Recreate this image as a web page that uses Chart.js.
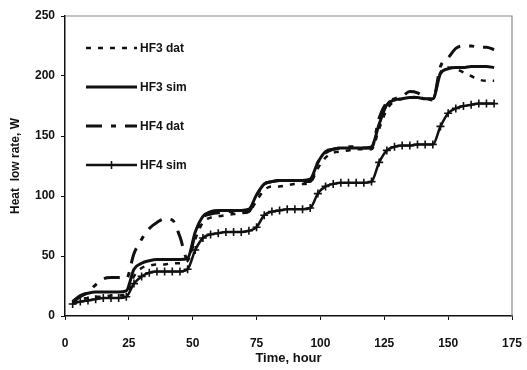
<!DOCTYPE html>
<html>
<head>
<meta charset="utf-8">
<script src="https://cdn.jsdelivr.net/npm/chart.js@4.4.0/dist/chart.umd.min.js"></script>
<style>
  html, body { margin: 0; padding: 0; background: #fff; }
  #wrap { width: 527px; height: 370px; }
</style>
</head>
<body>
<div id="wrap"><canvas id="heatChart" width="527" height="370"></canvas></div>
<script>
// time axis, hours
const hours = [3, 6, 9, 12, 15, 18, 21, 24, 27, 30, 33, 36, 39, 42, 45, 48,
  51, 54, 57, 60, 63, 66, 69, 72, 75, 78, 81, 84, 87, 90, 93, 96,
  99, 102, 105, 108, 111, 114, 117, 120, 123, 126, 129, 132, 135, 138, 141, 144,
  147, 150, 153, 156, 159, 162, 165, 168];

// heat flow rate, W
const hf3Dat = [11, 14, 15, 16, 16, 17, 17, 18, 33, 40, 42, 43, 43, 44, 44, 46,
  64, 78, 82, 83, 84, 85, 86, 87, 96, 105, 108, 108, 109, 110, 110, 111,
  123, 132, 136, 137, 138, 139, 139, 139, 156, 172, 179, 181, 182, 183, 181, 181,
  203, 207, 206, 203, 200, 197, 196, 196];
const hf3Sim = [12, 17, 19, 20, 20, 20, 20, 21, 39, 44, 46, 47, 47, 47, 47, 48,
  70, 83, 87, 88, 88, 88, 88, 89, 101, 110, 112, 113, 113, 113, 113, 114,
  128, 137, 139, 140, 140, 140, 140, 141, 160, 176, 180, 181, 182, 182, 181, 181,
  202, 206, 207, 207, 208, 208, 208, 207];
const hf4Dat = [12, 16, 20, 26, 31, 32, 32, 31, 52, 64, 73, 78, 81, 80, 66, 47,
  68, 82, 85, 86, 87, 87, 86, 87, 100, 110, 112, 113, 113, 113, 112, 112,
  128, 136, 139, 140, 141, 141, 140, 140, 165, 178, 181, 183, 187, 186, 182, 180,
  208, 215, 223, 225, 225, 224, 224, 222];
const hf4Sim = [10, 12, 13, 14, 15, 15, 15, 16, 27, 33, 36, 37, 37, 37, 37, 39,
  55, 65, 68, 69, 70, 70, 70, 71, 74, 84, 87, 88, 89, 89, 89, 90,
  102, 108, 110, 111, 111, 111, 111, 112, 128, 138, 141, 142, 142, 143, 143, 143,
  158, 169, 173, 175, 176, 177, 177, 177];

const seriesNames = ['HF3 dat', 'HF3 sim', 'HF4 dat', 'HF4 sim'];
const xTicks = [0, 25, 50, 75, 100, 125, 150, 175];
const yTicks = [0, 50, 100, 150, 200, 250];

const FONT = 'Liberation Sans, Arial, sans-serif';
const INK = '#111';

function pts(vals) {
  return hours.map((h, i) => ({ x: h, y: vals[i] }));
}

// frame on top/right plus the legend inside the plot
const framePlugin = {
  id: 'frame',
  beforeDatasetsDraw(chart) {
    const { ctx, chartArea: a } = chart;
    ctx.save();
    ctx.strokeStyle = '#8a8a8a';
    ctx.lineWidth = 1.2;
    ctx.beginPath();
    ctx.moveTo(a.left, a.top);
    ctx.lineTo(a.right, a.top);
    ctx.lineTo(a.right, a.bottom);
    ctx.stroke();
    ctx.restore();
  },
  afterDatasetsDraw(chart) {
    const { ctx, chartArea: a } = chart;
    ctx.save();
    chart.data.datasets.forEach((ds, i) => {
      const y = a.top + 32 + i * 39;
      const x0 = a.left + 21, x1 = a.left + 72;
      ctx.strokeStyle = INK;
      ctx.lineWidth = ds.borderWidth;
      ctx.setLineDash(ds.borderDash || []);
      ctx.beginPath();
      ctx.moveTo(x0, y);
      ctx.lineTo(x1, y);
      ctx.stroke();
      ctx.setLineDash([]);
      if (ds.pointStyle === 'cross') {
        const cx = (x0 + x1) / 2;
        ctx.lineWidth = 1.6;
        ctx.beginPath();
        ctx.moveTo(cx, y - 4);
        ctx.lineTo(cx, y + 4);
        ctx.stroke();
      }
      ctx.fillStyle = INK;
      ctx.font = 'bold 12px ' + FONT;
      ctx.textBaseline = 'middle';
      ctx.fillText(ds.label, x1 + 3, y + 1);
    });
    ctx.restore();
  }
};

new Chart(document.getElementById('heatChart'), {
  type: 'line',
  data: {
    datasets: [
      {
        label: seriesNames[0],
        data: pts(hf3Dat),
        borderColor: INK,
        borderWidth: 2.5,
        borderDash: [5, 7],
        pointRadius: 0,
        cubicInterpolationMode: 'monotone'
      },
      {
        label: seriesNames[1],
        data: pts(hf3Sim),
        borderColor: INK,
        borderWidth: 3,
        pointRadius: 0,
        cubicInterpolationMode: 'monotone'
      },
      {
        label: seriesNames[2],
        data: pts(hf4Dat),
        borderColor: INK,
        borderWidth: 3,
        borderDash: [16, 9, 5, 9],
        pointRadius: 0,
        cubicInterpolationMode: 'monotone'
      },
      {
        label: seriesNames[3],
        data: pts(hf4Sim),
        borderColor: INK,
        borderWidth: 2.5,
        pointStyle: 'cross',
        pointRadius: 4,
        pointBorderWidth: 1.6,
        pointBorderColor: INK,
        cubicInterpolationMode: 'monotone'
      }
    ]
  },
  options: {
    responsive: false,
    animation: false,
    layout: { padding: { left: 0, right: 15, top: 16, bottom: 0 } },
    plugins: {
      legend: { display: false },
      tooltip: { enabled: false }
    },
    scales: {
      x: {
        type: 'linear',
        min: 0,
        max: 175,
        afterBuildTicks(scale) { scale.ticks = xTicks.map(v => ({ value: v })); },
        afterFit(scale) {
          scale.height = 54;
          scale.paddingLeft = 0;
          scale.paddingRight = 15;
        },
        grid: { drawOnChartArea: false, color: INK, tickLength: 4, tickColor: INK },
        border: { color: INK, width: 1.5 },
        ticks: { color: INK, padding: 16, font: { family: FONT, size: 12, weight: 'bold' } },
        title: {
          display: true,
          text: 'Time, hour',
          color: INK,
          padding: { top: 0, bottom: 4 },
          font: { family: FONT, size: 13, weight: 'bold' }
        }
      },
      y: {
        min: 0,
        max: 250,
        afterBuildTicks(scale) { scale.ticks = yTicks.map(v => ({ value: v })); },
        afterFit(scale) { scale.width = 65; },
        grid: { drawOnChartArea: false, color: INK, tickLength: 4, tickColor: INK },
        border: { color: INK, width: 1.5 },
        ticks: { color: INK, padding: 6, font: { family: FONT, size: 12, weight: 'bold' } },
        title: {
          display: true,
          text: 'Heat  low rate, W',
          color: INK,
          padding: { top: 8, bottom: 0 },
          font: { family: FONT, size: 12, weight: 'bold' }
        }
      }
    }
  },
  plugins: [framePlugin]
});
</script>
</body>
</html>
